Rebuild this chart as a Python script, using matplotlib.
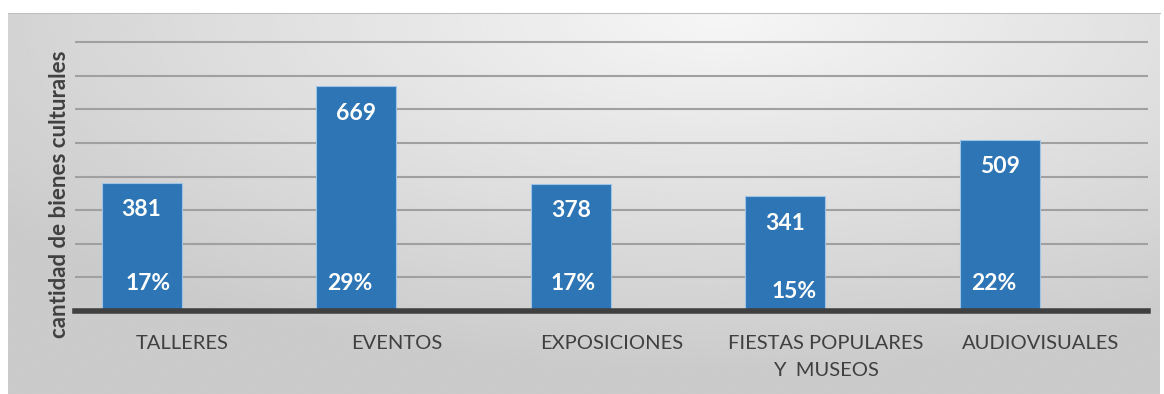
import numpy as np
import matplotlib.pyplot as plt

categories = ["TALLERES", "EVENTOS", "EXPOSICIONES", "FIESTAS POPULARES\nY  MUSEOS", "AUDIOVISUALES"]
counts = [381, 669, 378, 341, 509]
percents = ["17%", "29%", "17%", "15%", "22%"]

plt.rcParams["font.family"] = ["Lato", "DejaVu Sans"]

fig = plt.figure(figsize=(11.64, 3.94), dpi=100)
fig.patch.set_facecolor("white")

# gray radial-ish background panel
bg = fig.add_axes([8 / 1164, 0, 1152 / 1164, 381 / 394])
yy, xx = np.mgrid[0:1:200j, 0:1:600j]
dist = np.sqrt(((xx - 0.62) * 1.1) ** 2 + ((yy - 1.0) * 0.9) ** 2)
shade = 0.965 - 0.17 * np.clip(dist / 0.85, 0, 1)
bg.imshow(shade, cmap="gray", vmin=0, vmax=1, origin="lower",
          extent=[0, 1, 0, 1], aspect="auto", interpolation="bicubic")
bg.set_xticks([])
bg.set_yticks([])
for s in bg.spines.values():
    s.set_visible(False)
bg.spines["top"].set_visible(True)
bg.spines["top"].set_color("#bfbfbf")

# plot area
ax = fig.add_axes([75 / 1164, (394 - 311) / 394, 1073 / 1164, 280 / 394])
ax.patch.set_alpha(0)
x = np.arange(len(categories))
bar_x = x - 0.19
ax.bar(bar_x, counts, width=0.373, color="#2e75b6", edgecolor="#9dc3e6",
       linewidth=0.8, zorder=3)

ax.set_ylim(0, 833)
ax.set_xlim(-0.5, len(categories) - 0.5)
ax.set_yticks(np.arange(100, 801, 100))
ax.yaxis.grid(True, color="#a0a0a0", linewidth=1.5, zorder=0)
ax.tick_params(axis="y", left=False, labelleft=False)
ax.set_xticks(x)
ax.set_xticklabels(categories, fontsize=14.5, color="#404040", linespacing=1.75)
ax.tick_params(axis="x", length=0, pad=17)
for s in ["top", "right", "left"]:
    ax.spines[s].set_visible(False)
ax.spines["bottom"].set_color("#404040")
ax.spines["bottom"].set_linewidth(4)
ax.spines["bottom"].set_zorder(4)

pct_dx = [0.03, -0.03, 0.01, 0.04, -0.03]
pct_y = [27, 27, 27, 19, 28]
for i, (bx, v, p) in enumerate(zip(bar_x, counts, percents)):
    ax.annotate(str(v), (bx, v), xytext=(0, -27), textcoords="offset pixels",
                ha="center", va="center", color="white", fontsize=16.5,
                fontweight="bold", zorder=5)
    ax.annotate(p, (bx + pct_dx[i], 0), xytext=(0, pct_y[i]), textcoords="offset pixels",
                ha="center", va="center", color="white", fontsize=16.5,
                fontweight="bold", zorder=5)

fig.text(60 / 1164, 1 - 194 / 394, "cantidad de bienes culturales", rotation=90,
         ha="center", va="center", fontsize=16, fontweight="bold", color="#404040")

fig.savefig("out.png", dpi=100)
